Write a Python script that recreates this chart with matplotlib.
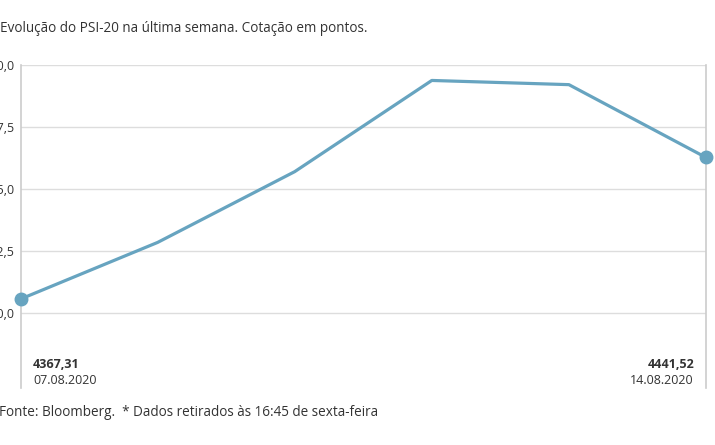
import matplotlib
matplotlib.use("Agg")
import matplotlib.pyplot as plt
from matplotlib.ticker import FuncFormatter

# PSI-20, last week
dates = ['07.08.2020', '10.08.2020', '11.08.2020', '12.08.2020', '13.08.2020', '14.08.2020']
values = [4367.31, 4397.0, 4434.1, 4481.9, 4479.7, 4441.52]
yticks = [4360.0, 4392.5, 4425.0, 4457.5, 4490.0]

lineColor = '#67a4c0'
textColor = '#333333'
W, H = 715, 445

plt.rcParams['font.family'] = ['Open Sans', 'DejaVu Sans']

fig = plt.figure(figsize=(W / 100, H / 100), dpi=100)
ax = fig.add_axes([20.5 / W, 1 - 388 / H, (706 - 20.5) / W, (388 - 65) / H])

x = list(range(len(values)))
ax.plot(x, values, color=lineColor, linewidth=2.3, solid_capstyle='round', zorder=3)
ax.plot([x[0], x[-1]], [values[0], values[-1]], 'o', color=lineColor,
        markersize=9, clip_on=False, zorder=4)

ax.set_xlim(0, len(values) - 1)
ax.set_ylim(4320.7, 4490)
ax.set_yticks(yticks)
ax.yaxis.set_major_formatter(FuncFormatter(lambda v, p: f'{v:.1f}'.replace('.', ',')))
ax.set_xticks([])
ax.tick_params(axis='y', length=0, pad=4, labelsize=9, labelcolor=textColor)
ax.grid(axis='y', color='#dddddd', linewidth=1)
ax.set_axisbelow(True)

for side in ['top', 'bottom']:
    ax.spines[side].set_visible(False)
for side in ['left', 'right']:
    ax.spines[side].set_color('#cccccc')
    ax.spines[side].set_linewidth(1.2)

# first / last value labels
fig.text(33 / W, 1 - 365 / H, f'{values[0]:.2f}'.replace('.', ','), fontsize=9,
         fontweight='bold', color=textColor, ha='left', va='center')
fig.text(33 / W, 1 - 381 / H, dates[0], fontsize=9, color=textColor, ha='left', va='center')
fig.text(694 / W, 1 - 365 / H, f'{values[-1]:.2f}'.replace('.', ','), fontsize=9,
         fontweight='bold', color=textColor, ha='right', va='center')
fig.text(694 / W, 1 - 381 / H, dates[-1], fontsize=9, color=textColor, ha='right', va='center')

fig.text(367 / W, 1 - 28 / H, 'Evolução do PSI-20 na última semana. Cotação em pontos.',
         fontsize=9.75, color=textColor, ha='right', va='center')
fig.text(378 / W, 1 - 413 / H, 'Fonte: Bloomberg.  * Dados retirados às 16:45 de sexta-feira',
         fontsize=9.75, color=textColor, ha='right', va='center')

fig.savefig('out.png', dpi=100, facecolor='white')
